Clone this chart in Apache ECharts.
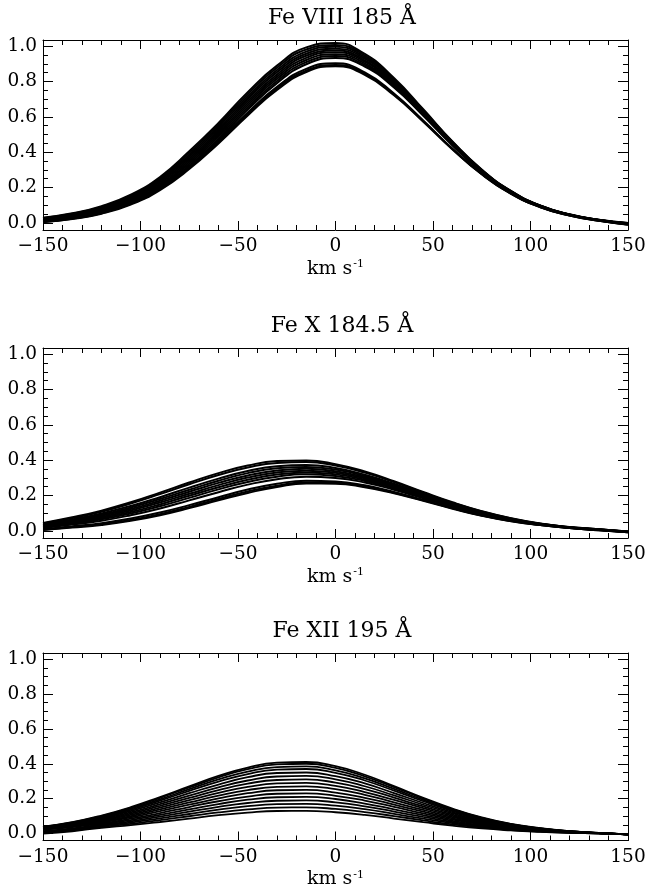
<!DOCTYPE html>
<html>
<head>
<meta charset="utf-8">
<script src="https://cdn.jsdelivr.net/npm/echarts@6/dist/echarts.min.js"></script>
<style>
  html, body { margin: 0; padding: 0; background: #fff; }
  #chart { width: 656px; height: 890px; }
</style>
</head>
<body>
<div id="chart"></div>
<script>
// Velocity grid (km/s) shared by every line profile
const velocity = [-150, -135, -120, -105, -90, -75, -60, -45, -30, -15, 0,
                  15, 30, 45, 60, 75, 90, 105, 120, 135, 150];

// Panel titles
const panelTitles = ['Fe VIII 185 Å', 'Fe X 184.5 Å', 'Fe XII 195 Å'];

// Axis tick values
const xTickLabels = [-150, -100, -50, 0, 50, 100, 150];
const yMajorTicks = [0, 0.2, 0.4, 0.6, 0.8, 1.0];
const yMinorTicks = [0.05, 0.1, 0.15, 0.25, 0.3, 0.35, 0.45, 0.5, 0.55, 0.65, 0.7, 0.75, 0.85, 0.9, 0.95];

// Fe VIII 185 Å normalised profiles
const feVIIIProfiles = [
  [0.030, 0.055, 0.095, 0.160, 0.260, 0.405, 0.565, 0.740, 0.890, 0.993, 1.018, 0.956, 0.820, 0.643, 0.461, 0.302, 0.181, 0.099, 0.049, 0.018, 0.000],
  [0.028, 0.052, 0.091, 0.154, 0.253, 0.395, 0.554, 0.728, 0.878, 0.981, 1.007, 0.947, 0.813, 0.638, 0.458, 0.300, 0.180, 0.098, 0.048, 0.018, -0.001],
  [0.025, 0.049, 0.087, 0.149, 0.245, 0.385, 0.543, 0.715, 0.865, 0.969, 0.997, 0.938, 0.806, 0.634, 0.455, 0.298, 0.179, 0.097, 0.048, 0.017, -0.002],
  [0.023, 0.045, 0.082, 0.143, 0.238, 0.375, 0.531, 0.703, 0.853, 0.957, 0.986, 0.929, 0.800, 0.629, 0.452, 0.297, 0.178, 0.097, 0.047, 0.017, -0.002],
  [0.020, 0.042, 0.078, 0.137, 0.230, 0.365, 0.520, 0.690, 0.840, 0.946, 0.975, 0.920, 0.793, 0.624, 0.449, 0.295, 0.177, 0.096, 0.047, 0.016, -0.003],
  [0.018, 0.039, 0.074, 0.132, 0.223, 0.355, 0.509, 0.678, 0.828, 0.934, 0.965, 0.912, 0.786, 0.620, 0.447, 0.293, 0.175, 0.095, 0.046, 0.016, -0.004],
  [0.016, 0.036, 0.070, 0.126, 0.215, 0.345, 0.498, 0.666, 0.816, 0.922, 0.954, 0.903, 0.779, 0.615, 0.444, 0.291, 0.174, 0.094, 0.046, 0.015, -0.005],
  [0.013, 0.033, 0.065, 0.120, 0.208, 0.335, 0.487, 0.653, 0.803, 0.910, 0.944, 0.894, 0.772, 0.611, 0.441, 0.290, 0.173, 0.093, 0.045, 0.015, -0.006],
  [0.011, 0.029, 0.061, 0.115, 0.200, 0.325, 0.475, 0.641, 0.791, 0.898, 0.933, 0.885, 0.766, 0.606, 0.438, 0.288, 0.172, 0.093, 0.045, 0.014, -0.006],
  [0.008, 0.026, 0.058, 0.112, 0.196, 0.318, 0.465, 0.625, 0.770, 0.872, 0.903, 0.852, 0.732, 0.580, 0.420, 0.278, 0.167, 0.090, 0.043, 0.013, -0.009],
  [0.006, 0.024, 0.055, 0.108, 0.191, 0.311, 0.457, 0.616, 0.760, 0.862, 0.894, 0.845, 0.727, 0.576, 0.418, 0.276, 0.166, 0.090, 0.042, 0.012, -0.009],
  [0.004, 0.022, 0.052, 0.104, 0.186, 0.305, 0.450, 0.608, 0.752, 0.854, 0.886, 0.838, 0.722, 0.573, 0.416, 0.275, 0.165, 0.089, 0.042, 0.012, -0.010]
];

// Fe X 184.5 Å normalised profiles
const feXProfiles = [
  [0.045, 0.077, 0.115, 0.162, 0.217, 0.274, 0.327, 0.370, 0.395, 0.399, 0.378, 0.336, 0.281, 0.220, 0.162, 0.112, 0.072, 0.042, 0.022, 0.010, -0.003],
  [0.042, 0.073, 0.109, 0.155, 0.208, 0.264, 0.316, 0.359, 0.385, 0.390, 0.370, 0.330, 0.276, 0.217, 0.159, 0.110, 0.071, 0.041, 0.022, 0.010, -0.003],
  [0.037, 0.065, 0.099, 0.141, 0.191, 0.245, 0.296, 0.339, 0.366, 0.373, 0.356, 0.318, 0.267, 0.210, 0.155, 0.107, 0.069, 0.040, 0.021, 0.009, -0.004],
  [0.034, 0.061, 0.092, 0.133, 0.181, 0.233, 0.284, 0.327, 0.354, 0.362, 0.347, 0.311, 0.262, 0.206, 0.152, 0.105, 0.067, 0.039, 0.020, 0.008, -0.004],
  [0.031, 0.056, 0.086, 0.124, 0.171, 0.222, 0.272, 0.314, 0.342, 0.352, 0.338, 0.304, 0.257, 0.202, 0.149, 0.103, 0.066, 0.039, 0.020, 0.008, -0.005],
  [0.027, 0.051, 0.079, 0.116, 0.161, 0.210, 0.259, 0.302, 0.331, 0.341, 0.329, 0.297, 0.251, 0.198, 0.146, 0.101, 0.065, 0.038, 0.019, 0.007, -0.005],
  [0.024, 0.047, 0.073, 0.107, 0.150, 0.199, 0.247, 0.289, 0.319, 0.331, 0.320, 0.290, 0.246, 0.194, 0.143, 0.098, 0.063, 0.037, 0.019, 0.007, -0.006],
  [0.021, 0.042, 0.066, 0.099, 0.140, 0.187, 0.235, 0.277, 0.307, 0.320, 0.311, 0.283, 0.240, 0.190, 0.140, 0.096, 0.062, 0.037, 0.018, 0.006, -0.006],
  [0.017, 0.036, 0.058, 0.089, 0.127, 0.173, 0.219, 0.262, 0.293, 0.307, 0.300, 0.274, 0.233, 0.185, 0.137, 0.094, 0.060, 0.036, 0.018, 0.006, -0.006],
  [0.010, 0.026, 0.044, 0.070, 0.104, 0.146, 0.191, 0.234, 0.267, 0.284, 0.280, 0.258, 0.221, 0.176, 0.130, 0.089, 0.057, 0.034, 0.017, 0.005, -0.007],
  [0.007, 0.022, 0.038, 0.062, 0.095, 0.136, 0.181, 0.223, 0.256, 0.275, 0.273, 0.251, 0.216, 0.173, 0.128, 0.087, 0.056, 0.033, 0.016, 0.004, -0.008],
  [0.005, 0.019, 0.034, 0.057, 0.089, 0.129, 0.173, 0.215, 0.249, 0.268, 0.267, 0.247, 0.213, 0.170, 0.126, 0.086, 0.055, 0.033, 0.016, 0.004, -0.008]
];

// Fe XII 195 Å normalised profiles
const feXIIProfiles = [
  [0.039, 0.065, 0.103, 0.151, 0.209, 0.270, 0.330, 0.378, 0.406, 0.410, 0.386, 0.337, 0.272, 0.205, 0.143, 0.092, 0.055, 0.031, 0.014, 0.003, -0.005],
  [0.038, 0.064, 0.100, 0.147, 0.204, 0.264, 0.322, 0.369, 0.396, 0.400, 0.376, 0.328, 0.266, 0.200, 0.139, 0.090, 0.054, 0.030, 0.014, 0.003, -0.005],
  [0.037, 0.061, 0.096, 0.142, 0.196, 0.254, 0.310, 0.355, 0.381, 0.385, 0.362, 0.316, 0.256, 0.193, 0.134, 0.087, 0.052, 0.029, 0.013, 0.003, -0.005],
  [0.036, 0.059, 0.093, 0.136, 0.189, 0.244, 0.297, 0.341, 0.366, 0.370, 0.348, 0.304, 0.246, 0.185, 0.129, 0.083, 0.050, 0.028, 0.013, 0.003, -0.005],
  [0.034, 0.056, 0.088, 0.129, 0.179, 0.231, 0.281, 0.323, 0.347, 0.350, 0.329, 0.287, 0.232, 0.175, 0.122, 0.079, 0.047, 0.027, 0.012, 0.002, -0.005],
  [0.032, 0.052, 0.083, 0.121, 0.168, 0.217, 0.265, 0.304, 0.327, 0.330, 0.311, 0.271, 0.219, 0.165, 0.115, 0.074, 0.045, 0.025, 0.011, 0.002, -0.005],
  [0.030, 0.049, 0.078, 0.114, 0.158, 0.204, 0.249, 0.286, 0.307, 0.310, 0.292, 0.255, 0.206, 0.155, 0.108, 0.070, 0.042, 0.024, 0.011, 0.002, -0.005],
  [0.028, 0.046, 0.073, 0.107, 0.148, 0.191, 0.233, 0.267, 0.287, 0.290, 0.273, 0.238, 0.193, 0.145, 0.101, 0.065, 0.039, 0.022, 0.010, 0.002, -0.005],
  [0.026, 0.043, 0.068, 0.099, 0.138, 0.178, 0.217, 0.249, 0.267, 0.270, 0.254, 0.222, 0.179, 0.135, 0.094, 0.061, 0.036, 0.021, 0.009, 0.002, -0.005],
  [0.024, 0.040, 0.063, 0.092, 0.128, 0.165, 0.201, 0.231, 0.248, 0.250, 0.235, 0.205, 0.166, 0.125, 0.087, 0.056, 0.034, 0.019, 0.009, 0.002, -0.005],
  [0.022, 0.037, 0.058, 0.085, 0.117, 0.152, 0.185, 0.212, 0.228, 0.230, 0.216, 0.189, 0.153, 0.115, 0.080, 0.052, 0.031, 0.017, 0.008, 0.002, -0.005],
  [0.014, 0.029, 0.053, 0.077, 0.107, 0.138, 0.169, 0.194, 0.208, 0.210, 0.198, 0.172, 0.139, 0.105, 0.073, 0.047, 0.028, 0.016, 0.007, 0.001, -0.005],
  [0.011, 0.025, 0.048, 0.070, 0.097, 0.125, 0.153, 0.175, 0.188, 0.190, 0.179, 0.156, 0.126, 0.095, 0.066, 0.043, 0.026, 0.014, 0.006, 0.001, -0.005],
  [0.007, 0.021, 0.043, 0.063, 0.087, 0.112, 0.137, 0.157, 0.168, 0.170, 0.160, 0.140, 0.113, 0.085, 0.059, 0.038, 0.023, 0.013, 0.006, 0.001, -0.005],
  [0.003, 0.017, 0.038, 0.055, 0.077, 0.099, 0.121, 0.138, 0.149, 0.150, 0.141, 0.123, 0.100, 0.075, 0.052, 0.034, 0.020, 0.011, 0.005, 0.001, -0.005],
  [0.000, 0.013, 0.033, 0.048, 0.066, 0.086, 0.105, 0.120, 0.129, 0.130, 0.122, 0.107, 0.086, 0.065, 0.045, 0.029, 0.018, 0.010, 0.004, 0.001, -0.005]
];

const panelProfiles = [feVIIIProfiles, feXProfiles, feXIIProfiles];
const panelLineWidths = [2.0, 2.0, 1.8];

// Layout of the three stacked plot boxes
const FONT = 'DejaVu Serif';
const boxLeft = 43, boxRight = 28;
const boxTops = [40, 348, 653];
const boxHeight = 190;
const yMin = -0.04, yMax = 1.035;

const fmtMinus = v => (v < 0 ? '\u2212' + Math.abs(v) : String(v));

const grids = [], xAxes = [], yAxes = [], titles = [], series = [];

panelProfiles.forEach((profiles, p) => {
  grids.push({ left: boxLeft, right: boxRight, top: boxTops[p], height: boxHeight });

  titles.push({
    text: panelTitles[p],
    left: 337, top: boxTops[p] - 38, textAlign: 'center',
    textStyle: { fontFamily: FONT, fontSize: 22, fontWeight: 'normal', color: '#000' }
  });

  const lineStyle = { color: '#000', width: 1 };
  // bottom x axis with labels
  xAxes.push({
    gridIndex: p, type: 'value', position: 'bottom', min: -150, max: 150, interval: 50,
    axisLine: { show: true, onZero: false, lineStyle },
    axisTick: { show: true, inside: true, length: 9, lineStyle },
    minorTick: { show: true, splitNumber: 5, length: 5, lineStyle },
    splitLine: { show: false }, minorSplitLine: { show: false },
    axisLabel: { show: true, margin: 7, fontFamily: FONT, fontSize: 18.5, color: '#000',
                 formatter: v => fmtMinus(v), customValues: xTickLabels },
    name: 'km s{sup|-1}', nameLocation: 'middle', nameGap: 29,
    nameTextStyle: { fontFamily: FONT, fontSize: 19, color: '#000',
      rich: { sup: { fontFamily: FONT, fontSize: 11, color: '#000', verticalAlign: 'top', padding: [0, 0, 9, 1] } } }
  });
  // top x axis, ticks only
  xAxes.push({
    gridIndex: p, type: 'value', position: 'top', min: -150, max: 150, interval: 50,
    axisLine: { show: true, onZero: false, lineStyle },
    axisTick: { show: true, inside: true, length: 9, lineStyle },
    minorTick: { show: true, splitNumber: 5, length: 5, lineStyle },
    splitLine: { show: false }, axisLabel: { show: false }
  });

  const yBase = { gridIndex: p, type: 'value', min: yMin, max: yMax, splitLine: { show: false } };
  // left axis with major ticks and labels
  yAxes.push(Object.assign({}, yBase, {
    position: 'left',
    axisLine: { show: true, onZero: false, lineStyle },
    axisTick: { show: true, inside: true, length: 10, lineStyle, customValues: yMajorTicks },
    axisLabel: { show: true, margin: 6, fontFamily: FONT, fontSize: 18.5, color: '#000',
                 customValues: yMajorTicks, formatter: v => v.toFixed(1) }
  }));
  // left axis minor ticks
  yAxes.push(Object.assign({}, yBase, {
    position: 'left',
    axisLine: { show: false, onZero: false },
    axisTick: { show: true, inside: true, length: 5, lineStyle, customValues: yMinorTicks },
    axisLabel: { show: false }
  }));
  // right axis major ticks
  yAxes.push(Object.assign({}, yBase, {
    position: 'right',
    axisLine: { show: true, onZero: false, lineStyle },
    axisTick: { show: true, inside: true, length: 10, lineStyle, customValues: yMajorTicks },
    axisLabel: { show: false }
  }));
  // right axis minor ticks
  yAxes.push(Object.assign({}, yBase, {
    position: 'right',
    axisLine: { show: false, onZero: false },
    axisTick: { show: true, inside: true, length: 5, lineStyle, customValues: yMinorTicks },
    axisLabel: { show: false }
  }));

  profiles.forEach(profile => {
    series.push({
      type: 'line',
      xAxisIndex: p * 2,
      yAxisIndex: p * 4,
      data: velocity.map((v, i) => [v, profile[i]]),
      showSymbol: false,
      smooth: 0.5,
      clip: true,
      silent: true,
      lineStyle: { color: '#000', width: panelLineWidths[p] }
    });
  });
});

const chart = echarts.init(document.getElementById('chart'), null, { renderer: 'canvas' });
chart.setOption({
  animation: false,
  backgroundColor: '#fff',
  title: titles,
  grid: grids,
  xAxis: xAxes,
  yAxis: yAxes,
  series: series
});
</script>
</body>
</html>
